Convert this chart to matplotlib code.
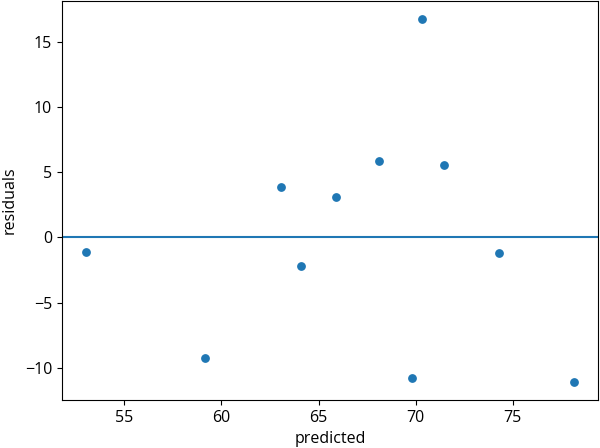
import matplotlib
matplotlib.use("Agg")
from matplotlib import pyplot as plt
import numpy as np

plt.rcParams['font.family'] = ['Open Sans', 'DejaVu Sans']
plt.rcParams['font.size'] = 11.5

# predicted values and residuals
predicted = [53.04, 59.18, 63.09, 64.12, 65.88, 68.09, 70.31, 69.79, 71.44, 74.28, 78.14]
residuals = [-1.15, -9.26, 3.90, -2.22, 3.14, 5.89, 16.76, -10.79, 5.59, -1.22, -11.09]

fig, ax = plt.subplots(figsize=(6, 4.48), dpi=100)
ax.scatter(predicted, residuals, s=28)
ax.axhline(0)
ax.set_xlabel("predicted", labelpad=4)
ax.set_ylabel("residuals", labelpad=5)
fig.subplots_adjust(left=0.103, right=0.997, top=0.998, bottom=0.107)
fig.savefig("out.png")
